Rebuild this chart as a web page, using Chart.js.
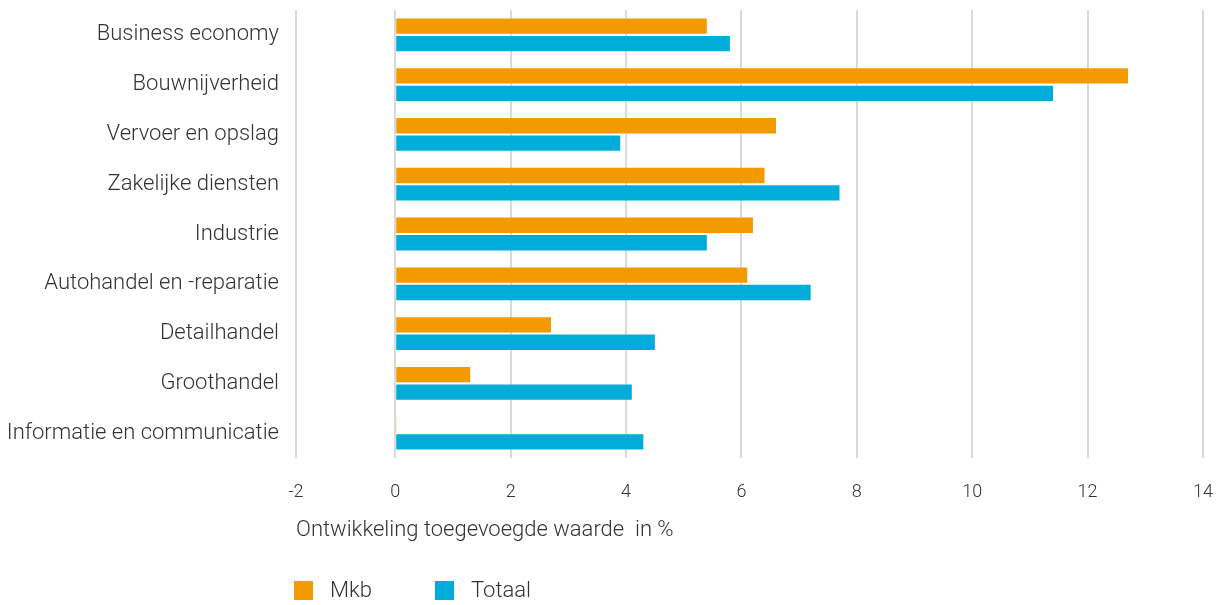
<!DOCTYPE html>
<html lang="nl">
<head>
  <meta charset="UTF-8" />
  <title>Ontwikkeling toegevoegde waarde</title>
  <script src="https://cdn.jsdelivr.net/npm/chart.js"></script>
  <style>
    html, body { margin: 0; padding: 0; background: #fff; }
    #wrap { position: relative; width: 1223px; height: 605px; }
    #legend { position: absolute; left: 294px; top: 579px; display: flex; font: 300 22px Roboto, sans-serif; color: #333; line-height: 22px; }
    #legend .item { display: flex; align-items: center; margin-right: 63px; }
    #legend .box { width: 19px; height: 19px; margin-right: 17px; }
  </style>
</head>
<body>
  <div id="wrap">
    <canvas id="chart"></canvas>
    <div id="legend"></div>
  </div>

  <script>
    const categories = [
      'Business economy', 'Bouwnijverheid', 'Vervoer en opslag', 'Zakelijke diensten',
      'Industrie', 'Autohandel en -reparatie', 'Detailhandel', 'Groothandel',
      'Informatie en communicatie'
    ];
    const mkb    = [5.4, 12.7, 6.6, 6.4, 6.2, 6.1, 2.7, 1.3, 0.02];
    const totaal = [5.8, 11.4, 3.9, 7.7, 5.4, 7.2, 4.5, 4.1, 4.3];
    const seriesNames = ['Mkb', 'Totaal'];
    const seriesColors = ['#F39A00', '#00ACD8'];
    const xTickValues = [-2, 0, 2, 4, 6, 8, 10, 12, 14];
    const xTickLabels = ['-2', '0', '2', '4', '6', '8', '10', '12', '14'];

    // the leftmost gridline in the original sits a bit right of where -2 would be
    const X_MIN = -1.72;

    Chart.defaults.font.family = 'Roboto, sans-serif';
    Chart.defaults.font.weight = 300;
    Chart.defaults.color = '#333';

    new Chart(document.getElementById('chart'), {
      type: 'bar',
      data: {
        labels: categories,
        datasets: [
          { label: seriesNames[0], data: mkb, backgroundColor: seriesColors[0] },
          { label: seriesNames[1], data: totaal, backgroundColor: seriesColors[1] }
        ]
      },
      options: {
        indexAxis: 'y',
        responsive: true,
        maintainAspectRatio: false,
        animation: false,
        layout: { padding: { top: 10, right: 20, bottom: 31, left: 0 } },
        datasets: { bar: { categoryPercentage: 0.7, barPercentage: 0.88 } },
        plugins: { legend: { display: false }, tooltip: { enabled: false } },
        scales: {
          x: {
            min: X_MIN,
            max: 14,
            afterBuildTicks: s => { s.ticks = xTickValues.map(v => ({ value: Math.max(v, X_MIN) })); },
            afterFit: s => { s.height = 116; s.paddingLeft = 0; s.paddingRight = 0; },
            grid: { color: '#d9d9d9', lineWidth: 2, drawTicks: false },
            border: { display: false },
            ticks: { padding: 24, font: { size: 18 }, callback: (v, i) => xTickLabels[i] },
            title: {
              display: true,
              align: 'start',
              text: 'Ontwikkeling toegevoegde waarde  in %',
              font: { size: 22 },
              padding: { top: 0, bottom: 30 }
            }
          },
          y: {
            afterFit: s => { s.width = 296; s.paddingTop = 0; s.paddingBottom = 0; },
            grid: { display: false, drawTicks: false },
            border: { display: false },
            ticks: { padding: 17, font: { size: 22 } }
          }
        }
      }
    });

    const legend = document.getElementById('legend');
    seriesNames.forEach((name, i) => {
      const item = document.createElement('div');
      item.className = 'item';
      item.innerHTML = '<span class="box" style="background:' + seriesColors[i] + '"></span><span>' + name + '</span>';
      legend.appendChild(item);
    });
  </script>
</body>
</html>
